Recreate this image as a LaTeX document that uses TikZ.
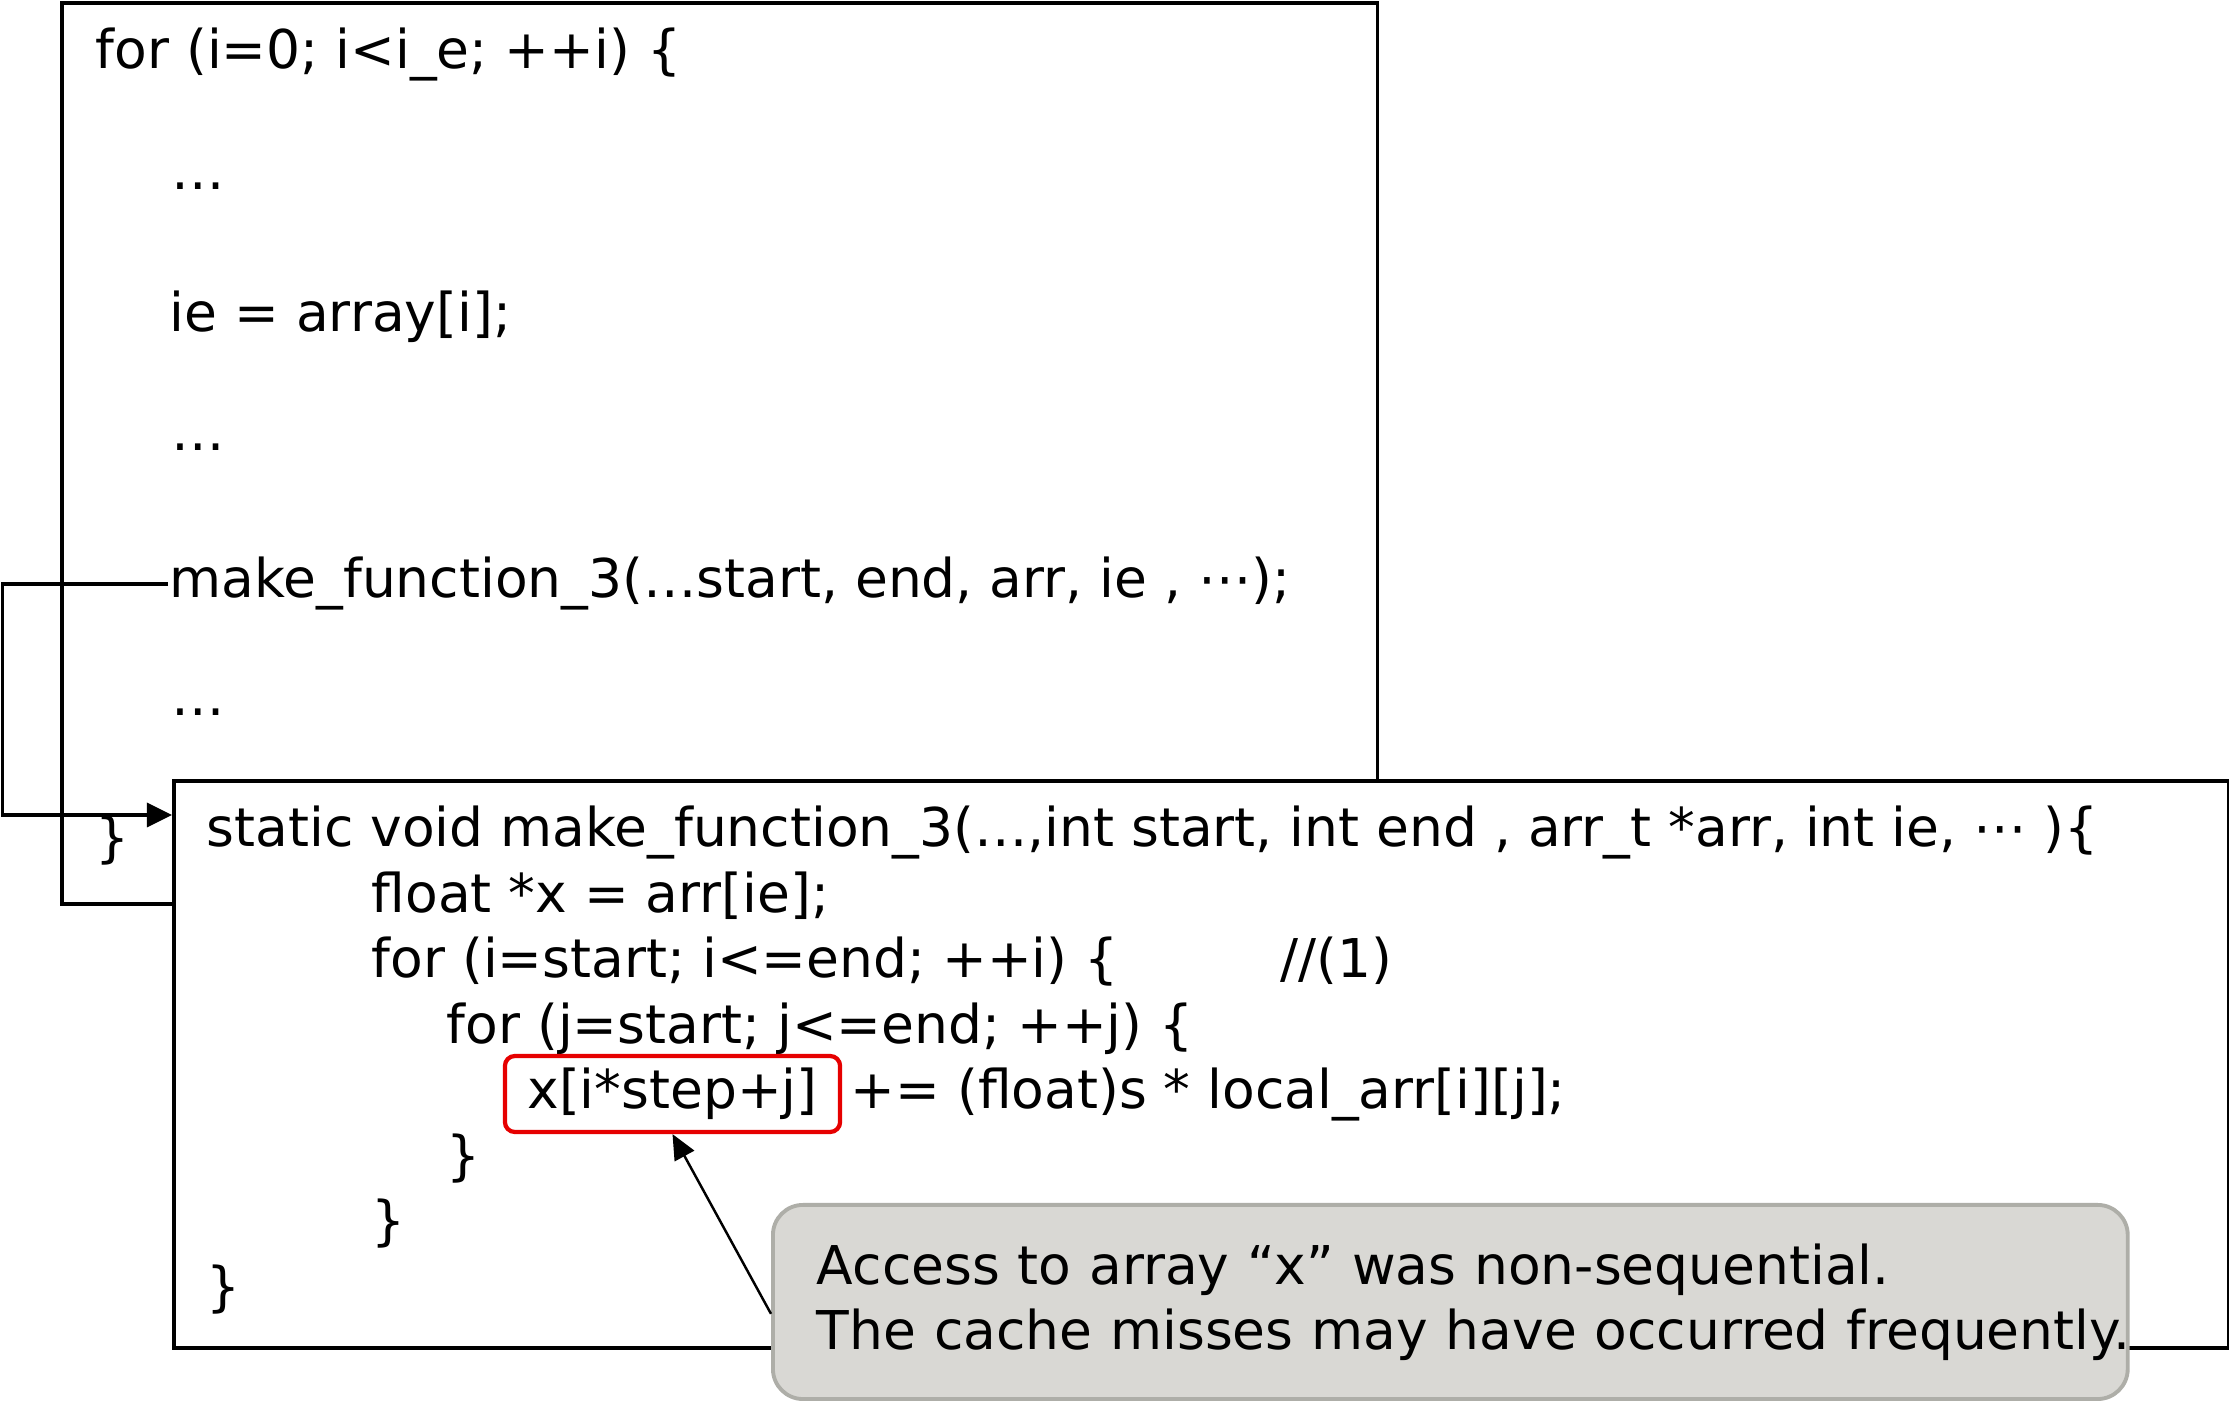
\documentclass[tikz,border=0pt]{standalone}
\usepackage{fontspec}
\setmainfont{DejaVu Sans}
\usetikzlibrary{arrows.meta}
\newcommand{\codesize}{\fontsize{15.2pt}{18.5pt}\selectfont}
\definecolor{notefill}{RGB}{217,216,212}
\definecolor{noteline}{RGB}{174,174,168}
\definecolor{markred}{RGB}{230,0,0}
\begin{document}
\begin{tikzpicture}[x=0.01cm, y=-0.01cm, line width=1pt]
\useasboundingbox (0,0) rectangle (2229,1401);
% caller loop
\node[draw, inner sep=0, anchor=north west, minimum width=13.15cm, minimum height=9.0cm] (outer) at (60,1.5) {};
\begin{scope}[every node/.style = {anchor=base west, inner sep=0, font=\codesize}]
\node (for1) at (94,69) {for (i=0; i<i\_e; ++i) \{};
\node (dots1) at (170,190) {…};
\node (ie) at (168,332) {ie = array[i];};
\node (dots2) at (170,451) {…};
\node (mk) at (168,598) {make\_function\_3(…start, end, arr, ie , ⋯);};
\node (dots3) at (170,716) {…};
\node (close1) at (94,857) {\}};
\end{scope}
% callee
\node[draw, fill=white, inner sep=0, anchor=north west, minimum width=20.54cm, minimum height=5.67cm] (inner) at (172,779) {};
\begin{scope}[every node/.style = {anchor=base west, inner sep=0, font=\codesize}]
\node (sig) at (205,847) {static void make\_function\_3(…,int start, int end , arr\_t *arr, int ie, ⋯ )\{};
\node (fl) at (370,913) {float *x = arr[ie];};
\node (fori) at (370,978) {for (i=start; i<=end; ++i) \{};
\node (cmt) at (1279,978) {//(1)};
\node (forj) at (445,1044) {for (j=start; j<=end; ++j) \{};
\node[anchor=center, draw=markred, line width=1.2pt, rounded corners=0.1cm, minimum width=3.35cm, minimum height=0.76cm] (xacc) at (672.5,1094) {x[i*step+j]};
\node (upd) at (849,1109) {+= (float)s * local\_arr[i][j];};
\node (close2) at (445,1175) {\}};
\node (close3) at (370,1240) {\}};
\node (close4) at (205,1306) {\}};
\end{scope}
\coordinate (bend) at (2.5,815);
\draw[-{Triangle[length=0.25cm,width=0.24cm]}] (mk.west) -| (bend) -- (inner.west |- bend);
% note
\node[draw=noteline, line width=1.1pt, fill=notefill, rounded corners=0.3cm, anchor=north west, minimum width=13.54cm, minimum height=1.94cm, text width=12.66cm, inner xsep=0.44cm, align=left, font=\codesize] (callout) at (771,1203) {\mbox{Access to array “x” was non-sequential.}\\\mbox{The cache misses may have occurred frequently.}};
\draw[line width=0.7pt, -{Triangle[length=0.25cm,width=0.22cm]}] (callout.181) -- (xacc.south);
\end{tikzpicture}
\end{document}
